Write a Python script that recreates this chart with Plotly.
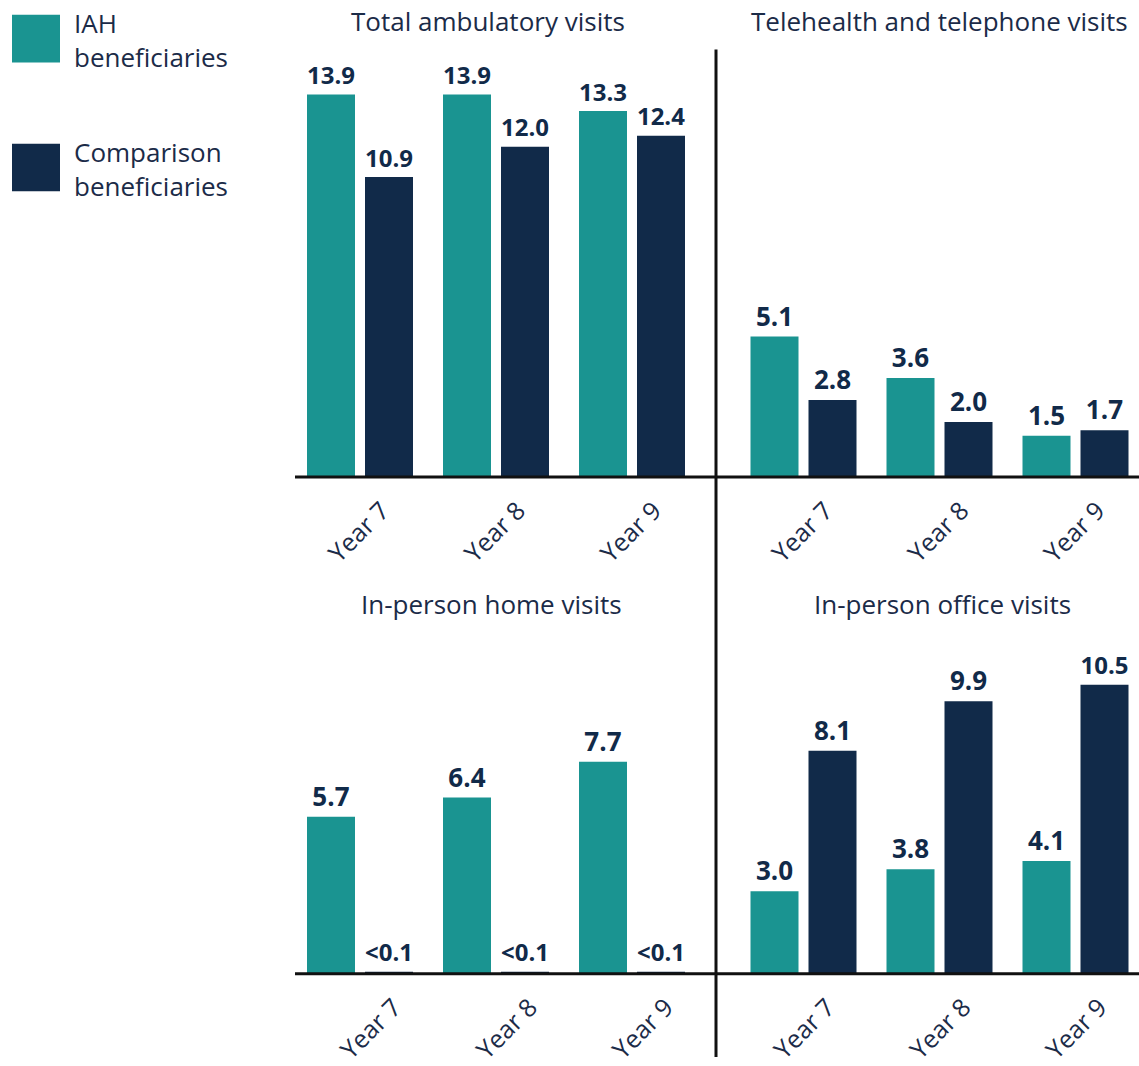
import plotly.graph_objects as go

# ---------------- data ----------------
years = ["Year 7", "Year 8", "Year 9"]
series_names = ["IAH beneficiaries", "Comparison beneficiaries"]
panel_titles = ["Total ambulatory visits", "Telehealth and telephone visits",
                "In-person home visits", "In-person office visits"]

iah_total = [13.9, 13.9, 13.3]
cmp_total = [10.9, 12.0, 12.4]
iah_tele = [5.1, 3.6, 1.5]
cmp_tele = [2.8, 2.0, 1.7]
iah_home = [5.7, 6.4, 7.7]
cmp_home = [0.05, 0.05, 0.05]          # reported as "<0.1"
cmp_home_labels = ["<0.1", "<0.1", "<0.1"]
iah_office = [3.0, 3.8, 4.1]
cmp_office = [8.1, 9.9, 10.5]

# ---------------- style ----------------
W, H = 1139, 1066
TEAL = "#1a9491"
NAVY = "#112a49"
TEXT = "#1b2b48"
FONT = "Open Sans"
SCALE = 27.75   # px per value unit (same for every panel)
CAT = 136.0     # px per category

BAR_W = 48 / CAT
OFFSETS = [-53 / CAT, 5 / CAT]


def px_x(p):
    return p / W


def px_y(p):
    return 1 - p / H


def fmt(vals):
    return [f"{v:.1f}" for v in vals]


panels = [
    (iah_total, cmp_total, fmt(iah_total), fmt(cmp_total)),
    (iah_tele, cmp_tele, fmt(iah_tele), fmt(cmp_tele)),
    (iah_home, cmp_home, fmt(iah_home), cmp_home_labels),
    (iah_office, cmp_office, fmt(iah_office), fmt(cmp_office)),
]

# pixel geometry of each panel: (x_left, x_right, y_top, y_base, tick shift)
geom = [
    (292, 700, 50, 481, 22),
    (735.5, 1139, 50, 481, 22),
    (292, 700, 620, 982, 34),
    (735.5, 1139, 620, 982, 24),
]

fig = go.Figure()

for i, (a, b, ta, tb) in enumerate(panels):
    sfx = "" if i == 0 else str(i + 1)
    for k, (vals, txt, col, name) in enumerate(((a, ta, TEAL, series_names[0]),
                                                 (b, tb, NAVY, series_names[1]))):
        fig.add_trace(go.Bar(
            x=years, y=vals, text=txt, name=name, marker_color=col,
            marker_line_width=0, width=BAR_W, offset=OFFSETS[k],
            textposition="outside", cliponaxis=False,
            textfont=dict(family=FONT, size=26, color=NAVY, weight="bold"),
            xaxis="x" + sfx, yaxis="y" + sfx, showlegend=False,
            hovertemplate="%{x}: %{text}<extra>" + name + "</extra>",
        ))

layout = dict(
    width=W, height=H, margin=dict(l=0, r=0, t=0, b=0),
    paper_bgcolor="white", plot_bgcolor="white",
    barmode="overlay",
    font=dict(family=FONT, color=TEXT),
    showlegend=False,
)

for i, (xl, xr, yt, yb, shift) in enumerate(geom):
    sfx = "" if i == 0 else str(i + 1)
    layout["xaxis" + sfx] = dict(
        domain=[px_x(xl), px_x(xr)], range=[-0.5, -0.5 + (xr - xl) / CAT], anchor="y" + sfx,
        showline=False, showgrid=False, zeroline=False, ticks="",
        tickangle=-45, ticklabelshift=shift, ticklabelstandoff=13,
        tickfont=dict(family=FONT, size=25, color=TEXT), fixedrange=True,
    )
    layout["yaxis" + sfx] = dict(
        domain=[px_y(yb), px_y(yt)], range=[0, (yb - yt) / SCALE], anchor="x" + sfx,
        visible=False, fixedrange=True,
    )

fig.update_layout(**layout)

# divider / baseline lines
line = dict(color="#111111", width=3)
fig.add_shape(type="line", xref="paper", yref="paper",
              x0=px_x(295), x1=1, y0=px_y(481), y1=px_y(481), line=line)
fig.add_shape(type="line", xref="paper", yref="paper",
              x0=px_x(295), x1=1, y0=px_y(982), y1=px_y(982), line=line)
fig.add_shape(type="line", xref="paper", yref="paper",
              x0=px_x(716), x1=px_x(716), y0=0, y1=px_y(50), line=line)

# panel titles
title_pos = [(488, 21), (940, 21), (491, 609), (942, 609)]
for t, (cx, cy) in zip(panel_titles, title_pos):
    fig.add_annotation(text=t, xref="paper", yref="paper", x=px_x(cx), y=px_y(cy),
                       xanchor="center", yanchor="middle", showarrow=False,
                       font=dict(family=FONT, size=26, color=TEXT))

# legend
leg = [(TEAL, 15, "IAH<br>beneficiaries"), (NAVY, 145, "Comparison<br>beneficiaries")]
for col, top, label in leg:
    fig.add_shape(type="rect", xref="paper", yref="paper",
                  x0=px_x(12), x1=px_x(60), y0=px_y(top + 48), y1=px_y(top),
                  fillcolor=col, line_width=0)
    fig.add_annotation(text=label, xref="paper", yref="paper", x=px_x(72), y=px_y(top + 25),
                       xanchor="left", yanchor="middle", align="left", showarrow=False,
                       font=dict(family=FONT, size=26, color=TEXT))

fig.write_html("out.html", config={"displayModeBar": False},
               post_script="document.body.style.margin='0';document.body.style.overflow='hidden';")
